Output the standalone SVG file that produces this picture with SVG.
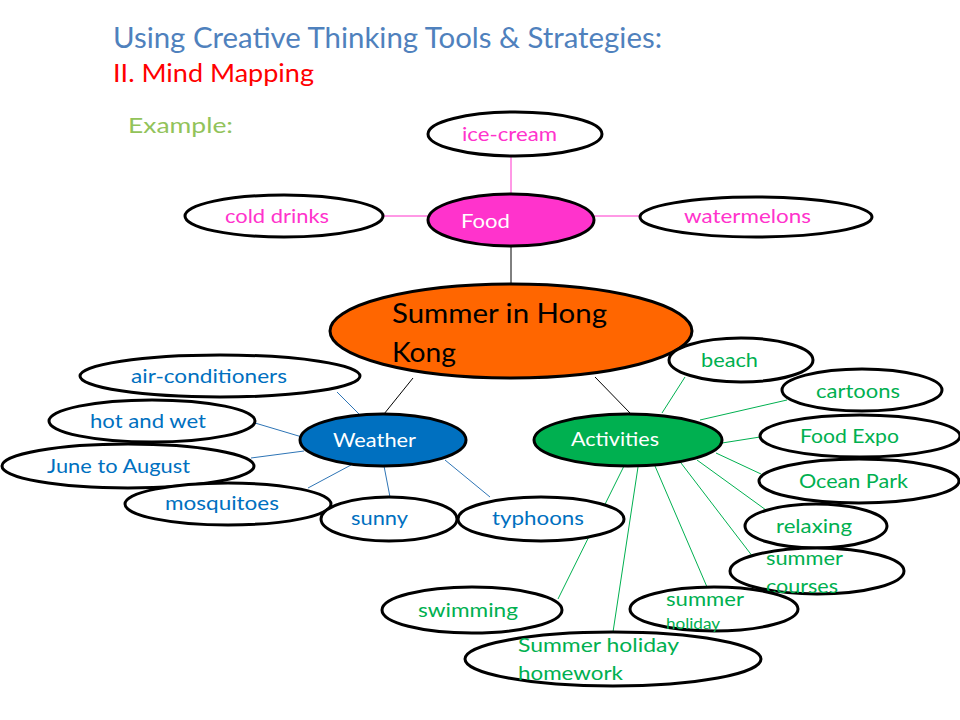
<svg xmlns="http://www.w3.org/2000/svg" width="960" height="720" viewBox="0 0 960 720">
<style>
text{font-family:Lato,"Liberation Sans",sans-serif}
.n ellipse{stroke:#000;stroke-width:3}
.w{fill:#fff}
.lbl{font-size:20px}
.pk{fill:#FF33CC}
.bl{fill:#0070C0}
.gr{fill:#00B050}
.wt{fill:#fff}
#connectors line{stroke-width:1}
.cb{stroke:#000}
.cp{stroke:#FF33CC}
.cw{stroke:#2E75B6}
.cg{stroke:#00B050}
</style>
<rect width="960" height="720" fill="#fff"/>
<text x="113" y="48" font-size="28" fill="#4F81BD" textLength="549" lengthAdjust="spacingAndGlyphs">Using Creative Thinking Tools &amp; Strategies:</text>
<text x="113" y="82" font-size="25" fill="#FF0000" textLength="201" lengthAdjust="spacingAndGlyphs">II. Mind Mapping</text>
<text x="128" y="133" font-size="22" fill="#92C35A" textLength="105" lengthAdjust="spacingAndGlyphs">Example:</text>
<g id="connectors">
<line class="cp" x1="511" y1="156" x2="511" y2="194"/>
<line class="cp" x1="383" y1="216" x2="428" y2="216"/>
<line class="cp" x1="594" y1="216" x2="640" y2="216"/>
<line class="cb" x1="511" y1="246" x2="511" y2="284"/>
<line class="cb" x1="413" y1="378" x2="384" y2="414"/>
<line class="cb" x1="595" y1="377" x2="630" y2="413"/>
<line class="cw" x1="337" y1="392" x2="359" y2="414"/>
<line class="cw" x1="255" y1="423" x2="302" y2="437"/>
<line class="cw" x1="251" y1="458" x2="304" y2="451"/>
<line class="cw" x1="308" y1="488" x2="351" y2="465"/>
<line class="cw" x1="384" y1="466" x2="390" y2="497"/>
<line class="cw" x1="445" y1="460" x2="490" y2="497"/>
<line class="cg" x1="662" y1="413" x2="685" y2="377"/>
<line class="cg" x1="700" y1="420" x2="787" y2="400"/>
<line class="cg" x1="722" y1="443" x2="760" y2="437"/>
<line class="cg" x1="716" y1="453" x2="761" y2="474"/>
<line class="cg" x1="697" y1="460" x2="766" y2="510"/>
<line class="cg" x1="681" y1="463" x2="753" y2="557"/>
<line class="cg" x1="655" y1="466" x2="707" y2="587"/>
<line class="cg" x1="638" y1="467" x2="613" y2="632"/>
<line class="cg" x1="624" y1="466" x2="558" y2="599"/>
</g>
<g id="ice-cream" class="n"><ellipse class="w" cx="515" cy="134" rx="87" ry="22"/><text class="lbl pk" x="462" y="141" textLength="95" lengthAdjust="spacingAndGlyphs">ice-cream</text></g>
<g id="cold-drinks" class="n"><ellipse class="w" cx="284" cy="216" rx="99" ry="21"/><text class="lbl pk" x="225" y="223" textLength="104" lengthAdjust="spacingAndGlyphs">cold drinks</text></g>
<g id="watermelons" class="n"><ellipse class="w" cx="756" cy="217" rx="116" ry="20"/><text class="lbl pk" x="684" y="223" textLength="127" lengthAdjust="spacingAndGlyphs">watermelons</text></g>
<g id="food" class="n"><ellipse fill="#FF33CC" cx="511" cy="220" rx="83" ry="26"/><text class="lbl wt" x="461" y="228" textLength="49" lengthAdjust="spacingAndGlyphs">Food</text></g>
<g id="center" class="n"><ellipse fill="#FF6600" cx="511" cy="331" rx="181" ry="47"/><text font-size="27" fill="#000" x="392" y="323" textLength="215" lengthAdjust="spacingAndGlyphs">Summer in Hong</text><text font-size="27" fill="#000" x="392" y="362" textLength="64" lengthAdjust="spacingAndGlyphs">Kong</text></g>
<g id="air-conditioners" class="n"><ellipse class="w" cx="220" cy="376" rx="140" ry="21"/><text class="lbl bl" x="131" y="383" textLength="156" lengthAdjust="spacingAndGlyphs">air-conditioners</text></g>
<g id="hot-and-wet" class="n"><ellipse class="w" cx="152" cy="421" rx="103" ry="21"/><text class="lbl bl" x="90" y="428" textLength="116" lengthAdjust="spacingAndGlyphs">hot and wet</text></g>
<g id="june-to-august" class="n"><ellipse class="w" cx="128" cy="466" rx="126" ry="22"/><text class="lbl bl" x="47" y="473" textLength="143" lengthAdjust="spacingAndGlyphs">June to August</text></g>
<g id="mosquitoes" class="n"><ellipse class="w" cx="228" cy="504" rx="103" ry="21"/><text class="lbl bl" x="165" y="510" textLength="114" lengthAdjust="spacingAndGlyphs">mosquitoes</text></g>
<g id="sunny" class="n"><ellipse class="w" cx="389" cy="519" rx="68" ry="22"/><text class="lbl bl" x="351" y="525" textLength="57" lengthAdjust="spacingAndGlyphs">sunny</text></g>
<g id="typhoons" class="n"><ellipse class="w" cx="541" cy="519" rx="83" ry="22"/><text class="lbl bl" x="492" y="525" textLength="92" lengthAdjust="spacingAndGlyphs">typhoons</text></g>
<g id="weather" class="n"><ellipse fill="#0070C0" cx="383" cy="440" rx="83" ry="26"/><text class="lbl wt" x="333" y="447" textLength="83" lengthAdjust="spacingAndGlyphs">Weather</text></g>
<g id="beach" class="n"><ellipse class="w" cx="741" cy="360" rx="72" ry="22"/><text class="lbl gr" x="701" y="367" textLength="57" lengthAdjust="spacingAndGlyphs">beach</text></g>
<g id="cartoons" class="n"><ellipse class="w" cx="862" cy="390" rx="80" ry="21"/><text class="lbl gr" x="816" y="398" textLength="84" lengthAdjust="spacingAndGlyphs">cartoons</text></g>
<g id="food-expo" class="n"><ellipse class="w" cx="860" cy="436" rx="100" ry="21"/><text class="lbl gr" x="800" y="443" textLength="99" lengthAdjust="spacingAndGlyphs">Food Expo</text></g>
<g id="ocean-park" class="n"><ellipse class="w" cx="859" cy="481" rx="100" ry="22"/><text class="lbl gr" x="799" y="488" textLength="109" lengthAdjust="spacingAndGlyphs">Ocean Park</text></g>
<g id="relaxing" class="n"><ellipse class="w" cx="816" cy="526" rx="71" ry="22"/><text class="lbl gr" x="776" y="533" textLength="76" lengthAdjust="spacingAndGlyphs">relaxing</text></g>
<g id="summer-courses" class="n"><ellipse class="w" cx="817" cy="571" rx="87" ry="23"/><text class="lbl gr" x="766" y="565" textLength="77" lengthAdjust="spacingAndGlyphs">summer</text><text class="lbl gr" x="766" y="593" textLength="72" lengthAdjust="spacingAndGlyphs">courses</text></g>
<g id="swimming" class="n"><ellipse class="w" cx="472" cy="610" rx="90" ry="23"/><text class="lbl gr" x="418" y="617" textLength="100" lengthAdjust="spacingAndGlyphs">swimming</text></g>
<g id="summer-holiday" class="n"><ellipse class="w" cx="714" cy="609" rx="84" ry="22"/><text class="lbl gr" x="666" y="606" textLength="78" lengthAdjust="spacingAndGlyphs">summer</text><text font-size="15" class="gr" x="666" y="629" textLength="54" lengthAdjust="spacingAndGlyphs">holiday</text></g>
<g id="summer-holiday-homework" class="n"><ellipse class="w" cx="613" cy="659" rx="148" ry="27"/><text class="lbl gr" x="518" y="652" textLength="161" lengthAdjust="spacingAndGlyphs">Summer holiday</text><text class="lbl gr" x="518" y="680" textLength="105" lengthAdjust="spacingAndGlyphs">homework</text></g>
<g id="activities" class="n"><ellipse fill="#00B050" cx="628" cy="440" rx="94" ry="26"/><text class="lbl wt" x="571" y="446" textLength="88" lengthAdjust="spacingAndGlyphs">Activities</text></g>
</svg>
